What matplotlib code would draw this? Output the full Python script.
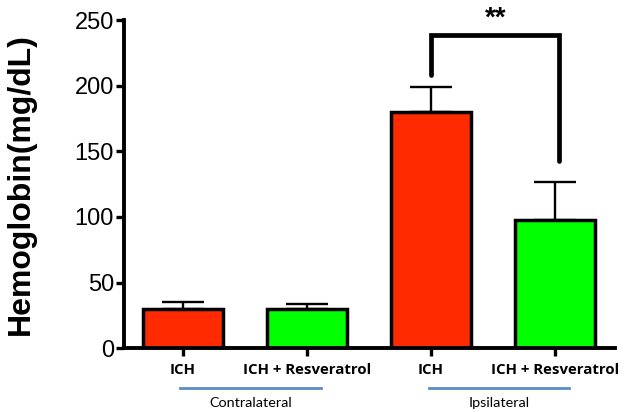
import matplotlib
matplotlib.use("Agg")
import matplotlib.pyplot as plt
import matplotlib.transforms as mtransforms
import numpy as np

groups = ["ICH", "ICH + Resveratrol", "ICH", "ICH + Resveratrol"]
means = [30, 30, 180, 98]
errors = [5, 4, 19, 29]
colors = ["#ff2a00", "#00ff00", "#ff2a00", "#00ff00"]
sides = ["Contralateral", "Ipsilateral"]

plt.rcParams["font.family"] = ["Liberation Sans", "DejaVu Sans"]

fig = plt.figure(figsize=(6.28, 4.12), dpi=100)
ax = fig.add_axes([0.197, 0.155, 0.782, 0.796])

x = np.arange(len(means))
ax.bar(x, means, width=0.645, color=colors, edgecolor="black", linewidth=2.5, zorder=2)
ax.errorbar(x, means, yerr=[np.zeros(4), errors], fmt="none", ecolor="black",
            elinewidth=1.7, capsize=15, capthick=1.7, zorder=1)

ax.set_xlim(-0.476, 3.48)
ax.set_ylim(0, 250)
ax.set_yticks([0, 50, 100, 150, 200, 250])
ax.tick_params(axis="y", labelsize=17, width=2.4, length=6, pad=1)
ax.tick_params(axis="x", width=2.4, length=6, pad=5)
ax.set_xticks(x)
ax.set_xticklabels(groups, fontsize=10.8, fontweight="bold", family=["Open Sans", "DejaVu Sans"])
for s in ["top", "right"]:
    ax.spines[s].set_visible(False)
for s in ["left", "bottom"]:
    ax.spines[s].set_linewidth(2.8)

ax.set_ylabel("Hemoglobin(mg/dL)", fontsize=23, fontweight="bold", labelpad=28)

# significance bracket
ax.plot([2, 2, 3.03, 3.03], [208, 238.5, 238.5, 143], color="black", lw=3.4,
        solid_capstyle="round", solid_joinstyle="miter", clip_on=False)
ax.text(2.52, 241, "**", ha="center", va="bottom", fontsize=20, fontweight="bold")

# group labels below axis
trans = mtransforms.blended_transform_factory(ax.transData, fig.transFigure)
for i, side in enumerate(sides):
    x0 = 2 * i
    fig.add_artist(plt.Line2D([x0 - 0.02, x0 + 1.11], [1 - 388 / 412] * 2, transform=trans,
                              color="#5b8cc6", lw=2))
    fig.text(x0 + 0.55, 1 - 403 / 412, side, transform=trans, ha="center", va="center",
             fontsize=10.4, family=["Lato", "DejaVu Sans"])

fig.savefig("out.png", dpi=100)
